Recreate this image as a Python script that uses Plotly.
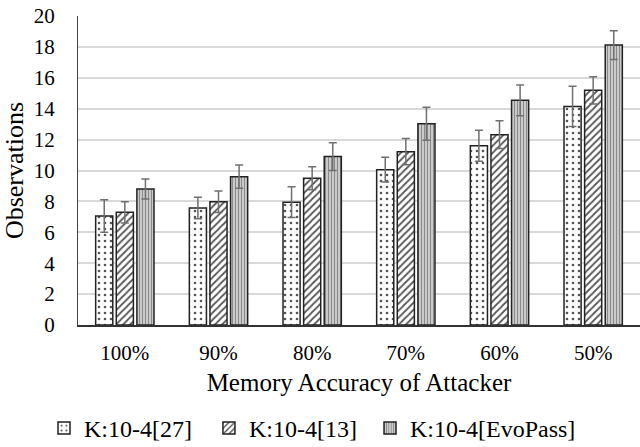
import plotly.graph_objects as go

categories = ["100%", "90%", "80%", "70%", "60%", "50%"]
series_names = ["K:10-4[27]", "K:10-4[13]", "K:10-4[EvoPass]"]
vals_27 = [7.05, 7.57, 7.95, 10.05, 11.6, 14.15]
err_27 = [1.05, 0.7, 1.0, 0.8, 1.0, 1.3]
vals_13 = [7.29, 7.98, 9.5, 11.22, 12.32, 15.19]
err_13 = [0.68, 0.7, 0.75, 0.85, 0.9, 0.88]
vals_evo = [8.8, 9.6, 10.9, 13.03, 14.54, 18.12]
err_evo = [0.65, 0.75, 0.9, 1.07, 1.0, 0.93]
y_ticks = [0, 2, 4, 6, 8, 10, 12, 14, 16, 18, 20]

FONT = "Liberation Serif"
styles = [
    dict(shape=".", bgcolor="white", fgcolor="#555555", size=6, solidity=0.15),
    dict(shape="/", bgcolor="white", fgcolor="#555555", size=5, solidity=0.35),
    dict(shape="|", bgcolor="#d8d8d8", fgcolor="#8a8a8a", size=3, solidity=0.45),
]
legend_ids = ["legend", "legend2", "legend3"]
legend_x = [-0.0605, 0.233, 0.5196]

fig = go.Figure()
for name, v, e, st, lid in zip(series_names, [vals_27, vals_13, vals_evo],
                               [err_27, err_13, err_evo], styles, legend_ids):
    fig.add_trace(go.Bar(
        x=categories, y=v, name=name, legend=lid,
        marker=dict(color=st["bgcolor"], line=dict(color="#222222", width=1.5),
                    pattern=st),
        error_y=dict(type="data", array=e, visible=True, color="#707070",
                     thickness=1.5, width=4),
    ))

leg_common = dict(orientation="h", xanchor="left", y=-0.335, yanchor="middle",
                  font=dict(family=FONT, size=24, color="black"), itemwidth=30,
                  bgcolor="rgba(0,0,0,0)")

fig.update_layout(
    template="none",
    width=640, height=447,
    margin=dict(l=78, r=0, t=16, b=122, autoexpand=False),
    paper_bgcolor="white", plot_bgcolor="white",
    barmode="group", bargap=0.34, bargroupgap=0.17,
    font=dict(family=FONT, size=21, color="black"),
    showlegend=True,
    legend=dict(x=legend_x[0], **leg_common),
    legend2=dict(x=legend_x[1], **leg_common),
    legend3=dict(x=legend_x[2], **leg_common),
    xaxis=dict(type="category", showgrid=False, showline=True, linecolor="#333333", linewidth=1.5,
               ticks="", tickfont=dict(family=FONT, size=21, color="black"),
               ticklabelstandoff=8, automargin=False, zeroline=False,
               title=dict(text="Memory Accuracy of Attacker",
                          font=dict(family=FONT, size=25, color="black"), standoff=10)),
    yaxis=dict(range=[0, 20], tickvals=y_ticks, showgrid=True, gridcolor="#d9d9d9",
               gridwidth=1.5, showline=True, linecolor="#444444", linewidth=1,
               zeroline=False, ticks="", tickfont=dict(family=FONT, size=21, color="black"),
               ticklabelstandoff=18, automargin=False,
               title=dict(text="Observations",
                          font=dict(family=FONT, size=26, color="black"), standoff=6)),
)

fig.write_html("out.html")
